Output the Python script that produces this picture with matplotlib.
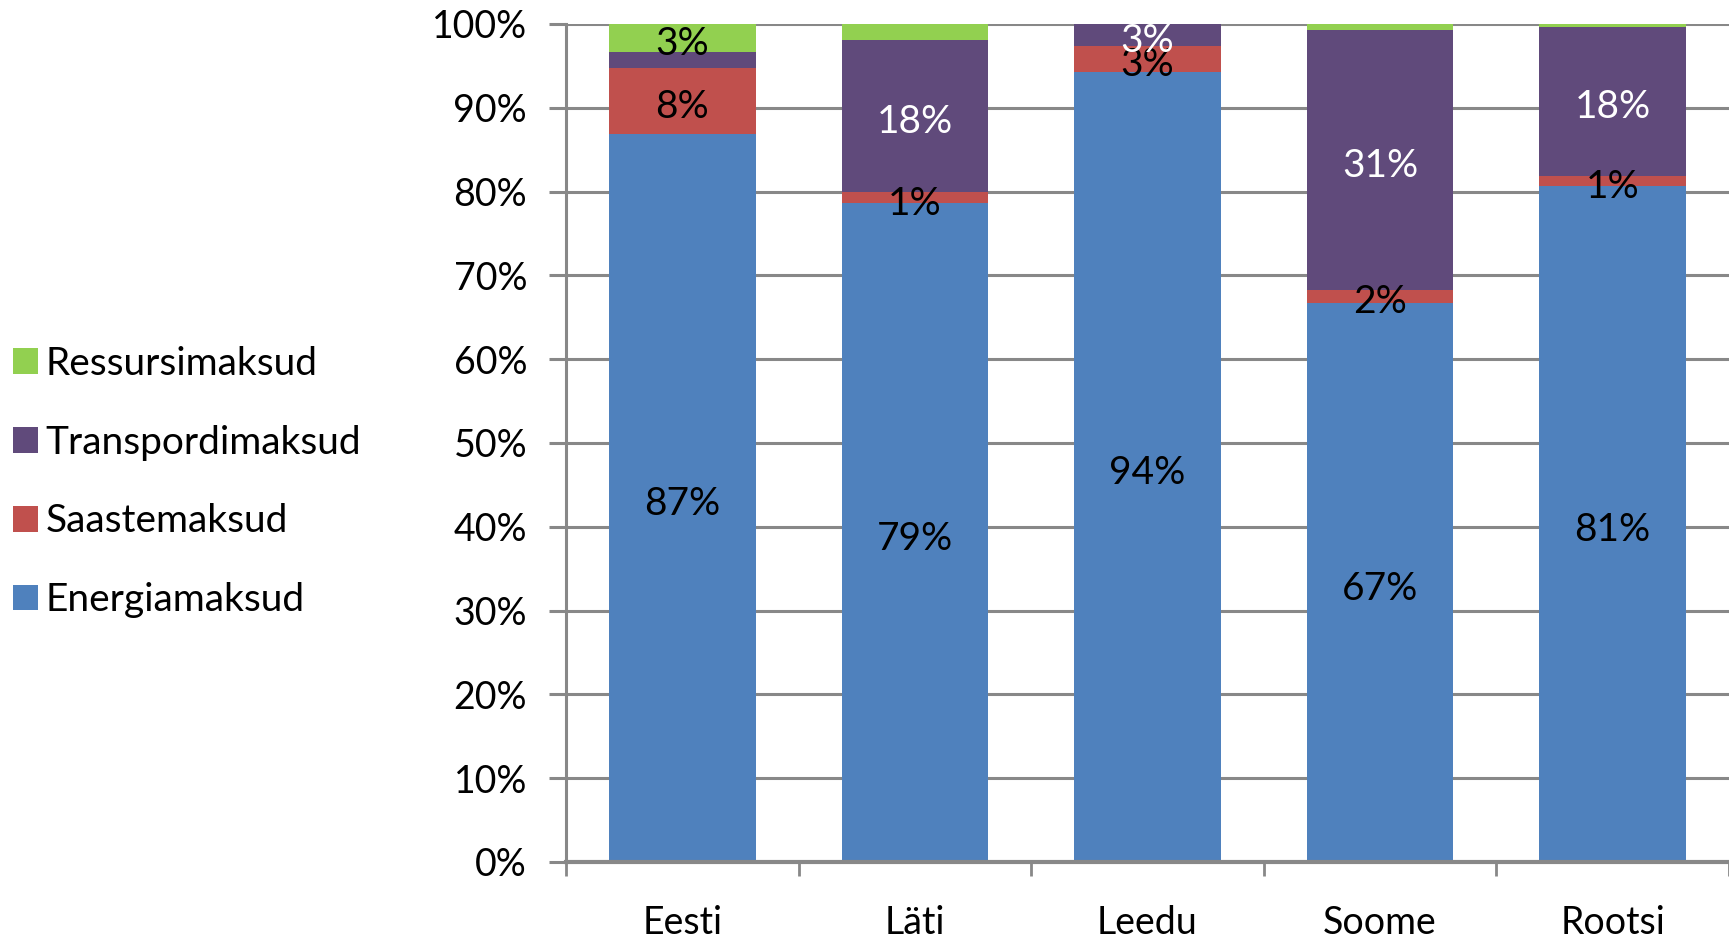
import matplotlib.pyplot as plt
import numpy as np

plt.rcParams['font.family'] = ['Lato', 'DejaVu Sans']

# data (shares of environmental taxes, %)
countries = ['Eesti', 'Läti', 'Leedu', 'Soome', 'Rootsi']
energia = [86.9, 78.6, 94.3, 66.7, 80.7]
saaste = [7.8, 1.3, 3.1, 1.6, 1.2]
transport = [1.9, 18.2, 2.6, 31.0, 17.8]
ressurss = [3.4, 1.9, 0.0, 0.7, 0.3]

series_names = ['Energiamaksud', 'Saastemaksud', 'Transpordimaksud', 'Ressursimaksud']
series_vals = [energia, saaste, transport, ressurss]
colors = ['#4F81BD', '#C0504D', '#604A7B', '#92D050']
label_colors = ['black', 'black', 'white', 'black']
# which segments carry a data label (some were removed in the original)
show_label = [
    [True, True, True, True, True],
    [True, True, True, True, True],
    [False, True, True, True, True],
    [True, False, False, False, False],
]

fig = plt.figure(figsize=(17.29, 9.39), dpi=100)
ax = fig.add_axes([566 / 1729, 1 - 862 / 939, 1 - 566 / 1729, (862 - 24) / 939])

x = np.arange(len(countries))
bottom = np.zeros(len(countries))
handles = []
for name, vals, col, lc, show in zip(series_names, series_vals, colors, label_colors, show_label):
    vals = np.array(vals)
    b = ax.bar(x, vals, 0.63, bottom=bottom, color=col, label=name, zorder=3)
    handles.append(b)
    for i in range(len(countries)):
        if show[i] and vals[i] > 0:
            ax.text(x[i], bottom[i] + vals[i] / 2 - 0.3, f'{vals[i]:.0f}%', ha='center',
                    va='center_baseline', color=lc, fontsize=28, zorder=4)
    bottom += vals

ax.set_xlim(-0.5, len(countries) - 0.5)
ax.set_ylim(0, 100)
ax.set_yticks(np.arange(0, 101, 10))
ax.set_yticklabels([f'{v}%' for v in range(0, 101, 10)], fontsize=27)
ax.set_xticks(x)
ax.set_xticklabels(countries, fontsize=27)
ax.set_xticks(np.arange(-0.5, len(countries), 1), minor=True)
ax.tick_params(axis='x', which='major', length=0, pad=31)
ax.tick_params(axis='x', which='minor', length=10, width=2, color='#888888', direction='out')
ax.tick_params(axis='y', length=12, width=2.2, color='#888888', pad=16)

ax.grid(axis='y', color='#888888', linewidth=2.2, zorder=0)
for s in ['top', 'right']:
    ax.spines[s].set_visible(False)
ax.spines['left'].set_color('#888888')
ax.spines['left'].set_linewidth(2.2)
ax.spines['bottom'].set_color('#888888')
ax.spines['bottom'].set_linewidth(3)
ax.spines['bottom'].set_zorder(5)

fig.legend(handles[::-1], series_names[::-1], loc='center left',
           bbox_to_anchor=(-0.004, 1 - 482 / 939), frameon=False, fontsize=28,
           handlelength=0.65, handleheight=0.65, handletextpad=0.2, labelspacing=1.1,
           borderaxespad=0.1)

fig.savefig('out.png', dpi=100)
